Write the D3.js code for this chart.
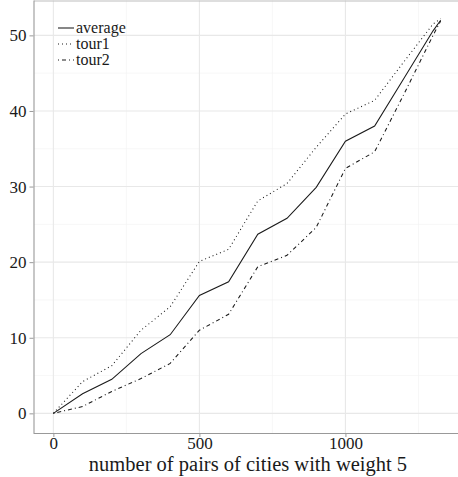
<!DOCTYPE html>
<html>
<head>
<meta charset="utf-8">
<script src="https://cdn.jsdelivr.net/npm/d3@7"></script>
<style>
html,body{margin:0;padding:0;background:#fff;}
svg{display:block;}
svg text{font-family:"Liberation Serif","DejaVu Serif",serif !important;}
</style>
</head>
<body>
<svg id="chart" width="458" height="477"></svg>
<script>
const pairs   = [0,100,200,300,400,500,600,700,800,900,1000,1100,1200,1300,1326];
const average = [0,2.6,4.5,7.9,10.4,15.6,17.4,23.7,25.8,29.9,36.0,38.0,44.3,50.6,52.0];
const tour1   = [0,4.2,6.3,11.0,14.1,20.1,21.7,28.1,30.4,35.2,39.6,41.4,46.5,51.5,52.2];
const tour2   = [0,0.9,2.9,4.6,6.6,11.0,13.1,19.4,20.9,24.6,32.4,34.6,42.2,50.0,51.9];
const seriesNames = ["average","tour1","tour2"];
const xTicks = [0,500,1000];
const xMinor = [250,750,1250];
const yTicks = [0,10,20,30,40,50];
const yMinor = [5,15,25,35,45];
const xTitle = "number of pairs of cities with weight 5";

(function(){
const FONT = "'Liberation Serif','DejaVu Serif',serif";
const svg = d3.select("#chart");
const pL = 34, pR = 460, pT = 0.6, pB = 433;
const x = d3.scaleLinear().domain([-66.3, 1392.3]).range([pL, pR]);
const y = d3.scaleLinear().domain([-2.6, 54.6]).range([pB, pT]);

const g = svg.append("g");
g.selectAll(".xminor").data(xMinor).enter().append("line")
  .attr("x1", d=>x(d)).attr("x2", d=>x(d)).attr("y1", pT).attr("y2", pB)
  .attr("stroke","#f2f2f2").attr("stroke-width",0.6);
g.selectAll(".yminor").data(yMinor).enter().append("line")
  .attr("y1", d=>y(d)).attr("y2", d=>y(d)).attr("x1", pL).attr("x2", pR)
  .attr("stroke","#f2f2f2").attr("stroke-width",0.6);
g.selectAll(".xmajor").data(xTicks).enter().append("line")
  .attr("x1", d=>x(d)).attr("x2", d=>x(d)).attr("y1", pT).attr("y2", pB)
  .attr("stroke","#e8e8e8").attr("stroke-width",1.1);
g.selectAll(".ymajor").data(yTicks).enter().append("line")
  .attr("y1", d=>y(d)).attr("y2", d=>y(d)).attr("x1", pL).attr("x2", pR)
  .attr("stroke","#e8e8e8").attr("stroke-width",1.1);

g.append("line").attr("x1",pL).attr("x2",pR).attr("y1",1).attr("y2",1)
  .attr("stroke","#bdbdbd").attr("stroke-width",1);

const dashes = {average: null, tour1: "1,3", tour2: "1,3,4,3"};
const data = {average, tour1, tour2};
const line = d3.line().x((d,i)=>x(pairs[i])).y(d=>y(d));
seriesNames.forEach(name=>{
  g.append("path").datum(data[name])
    .attr("d", line)
    .attr("fill","none")
    .attr("stroke","#1a1a1a")
    .attr("stroke-width",1.05)
    .attr("stroke-dasharray", dashes[name]);
});

const xAxis = d3.axisBottom(x).tickValues(xTicks).tickSize(4).tickPadding(0).tickFormat(d3.format("d"));
const yAxis = d3.axisLeft(y).tickValues(yTicks).tickSize(4).tickPadding(3).tickFormat(d3.format("d"));
const gx = svg.append("g").attr("transform",`translate(0,${pB})`).call(xAxis);
const gy = svg.append("g").attr("transform",`translate(${pL-0.5},0)`).call(yAxis);
[gx,gy].forEach(a=>{
  a.attr("font-family", FONT).attr("font-size", 17);
  a.select(".domain").attr("stroke","#999").attr("stroke-width",1.1);
  a.selectAll(".tick line").attr("stroke","#999");
  a.selectAll(".tick text").attr("fill","#1a1a1a");
});
gx.select(".domain").attr("d",`M${pL-0.5},0.5H${pR}`);
gy.select(".domain").attr("d",`M0.5,${pT}V${pB}`);

svg.append("text").attr("x",248).attr("y",471)
  .attr("text-anchor","middle").attr("fill","#1a1a1a")
  .attr("font-family", FONT).attr("font-size", 20.5).text(xTitle);

const leg = svg.append("g");
seriesNames.forEach((name,i)=>{
  const cy = 28 + i*16;
  leg.append("line").attr("x1",58).attr("x2",74).attr("y1",cy).attr("y2",cy)
    .attr("stroke","#1a1a1a").attr("stroke-width",1.05)
    .attr("stroke-dasharray", dashes[name]);
  leg.append("text").attr("x",76).attr("y",cy+5).attr("fill","#1a1a1a")
    .attr("font-family", FONT).attr("font-size", 16).text(name);
});
})();
</script>
</body>
</html>
